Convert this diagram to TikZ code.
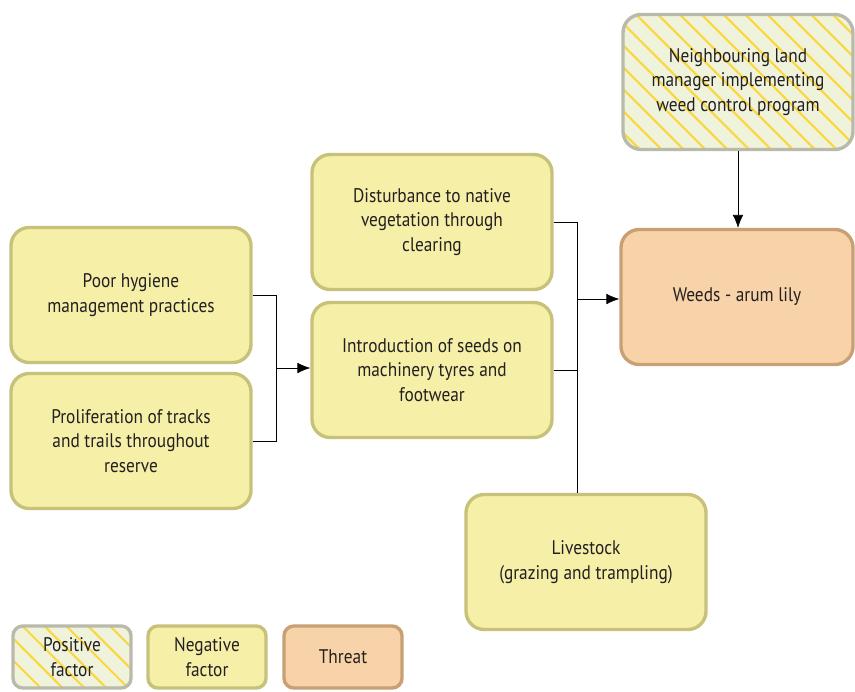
\documentclass[tikz,border=0pt]{standalone}
\usepackage{fontspec}
\setmainfont[FakeStretch=0.88]{PT Sans}
\usetikzlibrary{arrows,arrows.meta,positioning,patterns.meta}
\definecolor{negfill}{RGB}{245,239,168}
\definecolor{negdraw}{RGB}{200,193,122}
\definecolor{thrfill}{RGB}{248,210,168}
\definecolor{thrdraw}{RGB}{200,160,115}
\definecolor{posfill}{RGB}{240,243,220}
\definecolor{posdraw}{RGB}{185,186,170}
\definecolor{stripe}{RGB}{250,215,60}
\definecolor{txt}{RGB}{35,31,32}
\tikzset{
  box/.style={
    rounded corners=13pt, line width=2.4pt, align=center, text=txt,
    font=\fontsize{14}{17.6}\selectfont,
    minimum width=6cm, minimum height=3.375cm, inner sep=2pt
  },
  negbox/.style={box, draw=negdraw, fill=negfill},
  thrbox/.style={box, draw=thrdraw, fill=thrfill},
  posbox/.style={box, draw=posdraw,
    preaction={fill=posfill},
    pattern={Lines[angle=-45,distance=11pt,line width=1.5pt]},
    pattern color=stripe},
  keybox/.style={minimum width=2.95cm, minimum height=1.55cm, rounded corners=7pt},
  arr/.style={-{Latex[length=3.2mm,width=2.6mm]}}
}
\begin{document}
\begin{tikzpicture}[x=0.025cm,y=-0.025cm]
\useasboundingbox (0,0) rectangle (855,691);
% causes
\node[negbox] (hyg) at (131,295) {Poor hygiene\\management practices};
\node[negbox] (trk) at (131,441) {Proliferation of tracks\\and trails throughout\\reserve};
\node[negbox] (dist) at (432,222) {Disturbance to native\\vegetation through\\clearing};
\node[negbox] (intro) at (432,370) {Introduction of seeds on\\machinery tyres and\\footwear};
\node[negbox] (live) at (586,562) {Livestock\\(grazing and trampling)};
\node[posbox, minimum width=5.75cm] (nbr) at (738,82) {Neighbouring land\\manager implementing\\weed control program};
\node[thrbox, minimum width=5.8cm] (weed) at (737,297) {Weeds - arum lily};
% connectors
\coordinate (j1) at (276,368);
\coordinate (j2) at (577,299);
\draw (hyg.east) -| (j1);
\draw (trk.east) -| (j1);
\draw[arr] (j1) -- (j1 -| intro.west);
\draw (dist.east) -| (j2);
\draw (intro.east) -| (j2);
\draw (j2) -- (j2 |- live.north);
\draw[arr] (j2) -- (j2 -| weed.west);
\draw[arr] (nbr.south) -- (nbr.south |- weed.north);
% key
\node[posbox, keybox] (kpos) at (72,657) {Positive\\factor};
\node[negbox, keybox] (kneg) at (207,657) {Negative\\factor};
\node[thrbox, keybox] (kthr) at (343,657) {Threat};
\end{tikzpicture}
\end{document}
